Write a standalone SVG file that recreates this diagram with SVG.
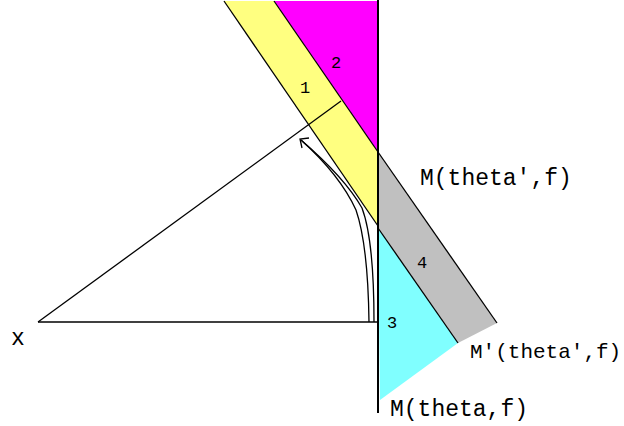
<svg xmlns="http://www.w3.org/2000/svg" width="624" height="426" viewBox="0 0 624 426">
<style>
.ln{stroke:#000;stroke-width:1.3;fill:none}
.lbl{font-family:"Liberation Mono","DejaVu Sans Mono",monospace;fill:#000}
.big{font-size:23px}
.sm{font-size:17px}
</style>
<rect width="624" height="426" fill="#fff"/>
<g id="regions">
<polygon id="r2" points="274,1 378,1 378,152" fill="#ff00ff"/>
<polygon id="r1" points="224,1 274,1 378,152 378,226" fill="#ffff80"/>
<polygon id="r4" points="378,152 497,323 458,343 378,228" fill="#c0c0c0"/>
<polygon id="r3" points="378,228 458,343 380,400" fill="#80ffff"/>
</g>
<g id="connectors">
<line class="ln" x1="224" y1="1" x2="378" y2="226"/>
<line class="ln" x1="274" y1="1" x2="378" y2="152"/>
<line class="ln" x1="378" y1="152" x2="497" y2="323"/>
<line class="ln" x1="378" y1="228" x2="458" y2="343"/>
<line class="ln" x1="38" y1="322" x2="341" y2="101"/>
<line class="ln" x1="38" y1="322" x2="378" y2="322"/>
<line x1="378" y1="0" x2="378" y2="413" stroke="#000" stroke-width="2"/>
<path class="ln" d="M301,140 Q345,178 362,208 Q374,240 374,322"/>
<path class="ln" d="M301,140 Q340,175 356,210 Q368,245 369,322"/>
<path class="ln" d="M309,138 L300,139 L302,148"/>
</g>
<g id="labels">
<text class="lbl sm" x="300" y="93">1</text>
<text class="lbl sm" x="331" y="68">2</text>
<text class="lbl sm" x="417" y="268">4</text>
<text class="lbl sm" x="387" y="328">3</text>
<text class="lbl big" x="420" y="185">M(theta',f)</text>
<text class="lbl" x="470" y="358" font-size="21">M'(theta',f)</text>
<text class="lbl big" x="390" y="416">M(theta,f)</text>
<text class="lbl big" x="11" y="345">x</text>
</g>
</svg>
